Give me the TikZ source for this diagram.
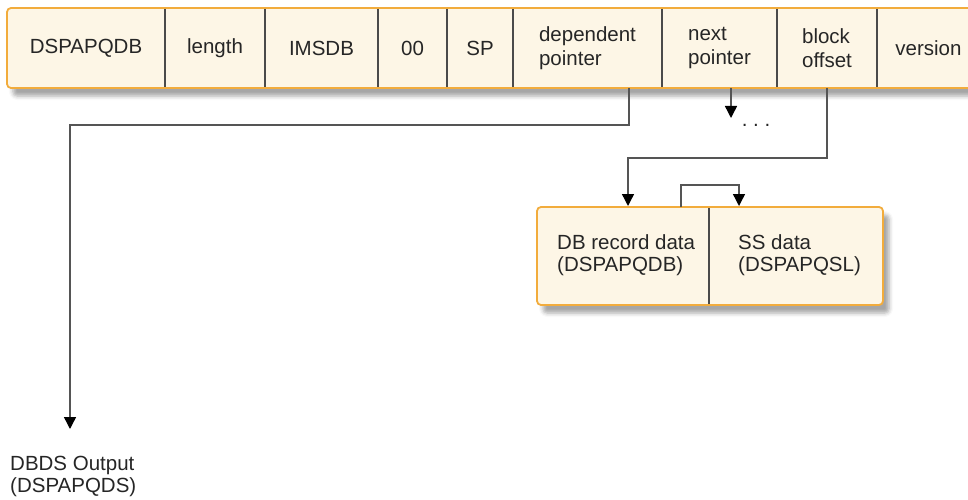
\documentclass[tikz,border=0pt]{standalone}
\usepackage{fontspec}
\setmainfont{Liberation Sans}
\usetikzlibrary{arrows.meta,shadows.blur}
\definecolor{boxfill}{HTML}{FDF6E6}
\definecolor{boxedge}{HTML}{F2AC3C}
\definecolor{divline}{HTML}{4A4A4A}
\definecolor{txt}{HTML}{262626}
\definecolor{conn}{HTML}{555555}
\tikzset{
  panel/.style={draw=boxedge, line width=1.8pt, fill=boxfill, rounded corners=4pt,
    blur shadow={shadow xshift=6pt, shadow yshift=-8pt, shadow blur radius=4pt, shadow opacity=35}},
  divider/.style={draw=divline, line width=1.4pt},
  cell/.style={inner sep=0pt, text=txt, font=\fontsize{20.5}{24.5}\selectfont, align=left},
  lbl/.style={inner sep=0pt, text=txt, font=\fontsize{20.5}{22}\selectfont, align=left, anchor=west},
  conn/.style={draw=conn, line width=1.4pt},
  arr/.style={conn, -{Triangle[width=12pt,length=12pt,color=black,fill=black]}},
}
\begin{document}
\begin{tikzpicture}[x=1pt,y=-1pt]
\useasboundingbox (0,0) rectangle (968,500);
\clip (0,0) rectangle (968,500);
% top bar
\path[panel] (7,8) rectangle (985,88);
\foreach \x in {165,265,378,447,513,662,777,877}
  \draw[divider] (\x,9) -- (\x,87);
\node[cell] (c1) at (86,48) {DSPAPQDB};
\node[cell] (c2) at (215,48) {length};
\node[cell] (c3) at (321.5,48) {IMSDB};
\node[cell] (c4) at (412.5,48) {00};
\node[cell] (c5) at (480,48) {SP};
\node[cell] (c6) at (587.5,48) {dependent\\pointer};
\node[cell] (c7) at (719.5,48) {next\\pointer};
\node[cell] (c8) at (827,48) {block\\offset};
\node[cell] (c9) at (928.5,48) {version};
% lower box
\path[panel] (537,207) rectangle (883,305);
\draw[divider] (709,208) -- (709,304);
\node[lbl] (db) at (557,255) {DB record data\\(DSPAPQDB)};
\node[lbl] (ss) at (738,255) {SS data\\(DSPAPQSL)};
% output label
\node[lbl] (out) at (10,476) {DBDS Output\\(DSPAPQDS)};
% coordinates
\coordinate (depS) at (629,88);
\coordinate (depE) at (70,429);
\coordinate (nxtS) at (731,88);
\coordinate (nxtE) at (731,118);
\coordinate (blkS) at (827,88);
\coordinate (blkE) at (628,206);
\coordinate (lpS) at (681,207);
\coordinate (lpE) at (739,206);
\node[cell] (dots) at (756,125) {.\ .\ .};
% connectors
\draw[arr] (depS) -- (629,125) -- (70,125) -- (depE);
\draw[arr] (nxtS) -- (nxtE);
\draw[arr] (blkS) -- (827,158) -- (628,158) -- (blkE);
\draw[arr] (lpS) -- (681,185) -- (739,185) -- (lpE);
\end{tikzpicture}
\end{document}
